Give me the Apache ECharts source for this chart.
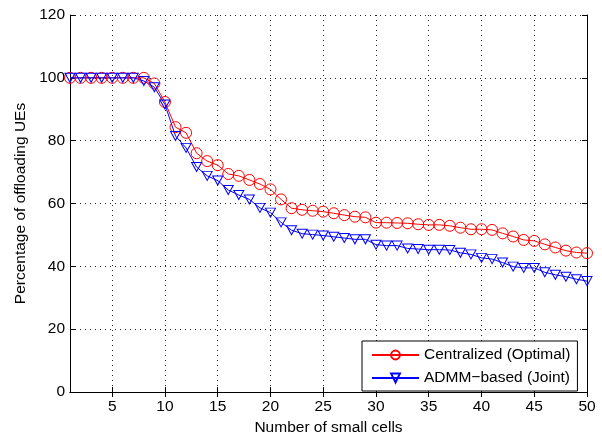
<!DOCTYPE html>
<html>
<head>
<meta charset="utf-8">
<script src="https://cdn.jsdelivr.net/npm/echarts@6/dist/echarts.min.js"></script>
<style>
html,body{margin:0;padding:0;background:#fff;}
#chart{width:602px;height:433px;}
</style>
</head>
<body>
<div id="chart"></div>
<script>
var cells = [1,2,3,4,5,6,7,8,9,10,11,12,13,14,15,16,17,18,19,20,21,22,23,24,25,26,27,28,29,30,31,32,33,34,35,36,37,38,39,40,41,42,43,44,45,46,47,48,49,50];
var centralized = [100,100,100,100,100,100,100,100,98.2,92.3,84.3,82.5,76,73.5,72.2,69.4,68.8,67.5,66.2,64.5,61.3,58.5,58,57.7,57.4,56.9,56.3,55.8,55.6,53.9,53.9,53.8,53.7,53.4,53.2,53.2,52.9,52.3,51.8,51.8,51.6,50.5,49.5,48.4,48.1,47,46,45,44.4,44.2];
var admm = [100,100,100,100,100,100,100,99,97,91.5,81.5,77.7,71.6,68.8,67.3,64.3,62.7,61.3,58.6,57.1,54,51.5,50.4,50.1,49.8,49.4,49,48.6,48.6,46.9,46.6,46.6,45.7,45.5,45.3,45.3,45.2,44.3,43.8,42.7,42.3,41.2,39.9,39.5,39.5,38.1,37.3,36.7,35.9,35.3];
var yTicks = [0,20,40,60,80,100,120];
var seriesNames = ['Centralized (Optimal)', 'ADMM\u2212based (Joint)'];
var xTitle = 'Number of small cells';
var yTitle = 'Percentage of offloading UEs';

var FONT = "'Liberation Sans', Arial, sans-serif";
var FS = 15.5;
var every5 = function (idx, val) { return Number(val) % 5 === 0; };
var dotted = { color: '#222', width: 1, type: [1, 4] };

var chart = echarts.init(document.getElementById('chart'), null, { renderer: 'canvas' });
chart.setOption({
  animation: false,
  backgroundColor: '#fff',
  textStyle: { fontFamily: FONT },
  grid: { left: 70, right: 15, top: 15, bottom: 41, containLabel: false, outerBoundsMode: 'none' },
  xAxis: [{
    type: 'category', data: cells, boundaryGap: false, position: 'bottom',
    name: xTitle, nameLocation: 'middle', nameGap: 22,
    nameTextStyle: { fontSize: FS, color: '#000', fontFamily: FONT },
    axisLine: { lineStyle: { color: '#000', width: 1 } },
    axisTick: { show: true, inside: true, length: 5, interval: every5, lineStyle: { color: '#000' } },
    axisLabel: { interval: every5, margin: 7, fontSize: FS, color: '#000', fontFamily: FONT },
    splitLine: { show: true, interval: every5, lineStyle: dotted }
  }, {
    type: 'category', data: cells, boundaryGap: false, position: 'top',
    axisLine: { lineStyle: { color: '#000', width: 1 } },
    axisTick: { show: true, inside: true, length: 5, interval: every5, lineStyle: { color: '#000' } },
    axisLabel: { show: false },
    splitLine: { show: false }
  }],
  yAxis: [{
    type: 'value', min: yTicks[0], max: yTicks[yTicks.length - 1], interval: 20, position: 'left',
    name: yTitle, nameLocation: 'middle', nameGap: 35,
    nameTextStyle: { fontSize: FS, color: '#000', fontFamily: FONT },
    axisLine: { show: true, lineStyle: { color: '#000', width: 1 } },
    axisTick: { show: true, inside: true, length: 5, lineStyle: { color: '#000' } },
    axisLabel: { margin: 5, fontSize: FS, color: '#000', fontFamily: FONT },
    splitLine: { show: true, lineStyle: dotted }
  }, {
    type: 'value', min: yTicks[0], max: yTicks[yTicks.length - 1], interval: 20, position: 'right',
    axisLine: { show: true, lineStyle: { color: '#000', width: 1 } },
    axisTick: { show: true, inside: true, length: 5, lineStyle: { color: '#000' } },
    axisLabel: { show: false },
    splitLine: { show: false }
  }],
  legend: {
    orient: 'vertical', left: 362, top: 341,
    padding: [6, 7, 5, 9], itemGap: 7, itemWidth: 47, itemHeight: 11,
    backgroundColor: '#fff', borderColor: '#000', borderWidth: 1, borderRadius: 0,
    textStyle: { fontSize: FS, color: '#000', fontFamily: FONT },
    data: seriesNames
  },
  series: [{
    name: seriesNames[0], type: 'line', xAxisIndex: 0, yAxisIndex: 0,
    data: centralized, showAllSymbol: true,
    symbol: 'circle', symbolSize: 11,
    lineStyle: { color: '#ff0000', width: 1 },
    itemStyle: { color: 'rgba(255,255,255,0)', borderColor: '#ff0000', borderWidth: 1 }
  }, {
    name: seriesNames[1], type: 'line', xAxisIndex: 0, yAxisIndex: 0,
    data: admm, showAllSymbol: true,
    symbol: 'triangle', symbolRotate: 180, symbolSize: [10, 9],
    lineStyle: { color: '#0000ff', width: 1 },
    itemStyle: { color: 'rgba(255,255,255,0)', borderColor: '#0000ff', borderWidth: 1 }
  }]
});
</script>
</body>
</html>
